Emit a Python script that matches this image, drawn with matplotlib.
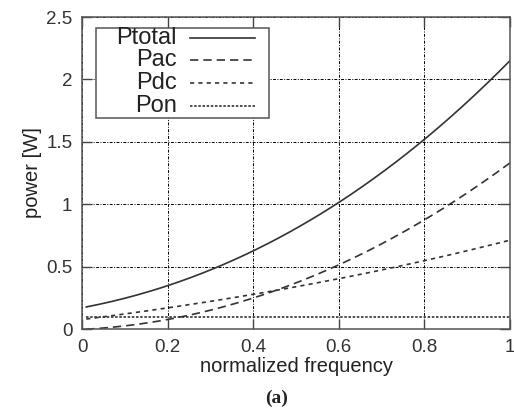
import numpy as np
import matplotlib.pyplot as plt
from matplotlib.lines import Line2D

plt.rcParams['font.family'] = ['Liberation Sans', 'DejaVu Sans']

# values
freq = [0.01, 0.1, 0.2, 0.3, 0.4, 0.5, 0.6, 0.7, 0.8, 0.9, 1.0]
p_total = [0.18, 0.24, 0.35, 0.47, 0.63, 0.81, 1.01, 1.25, 1.52, 1.82, 2.15]
p_ac = [0.0, 0.02, 0.08, 0.15, 0.25, 0.37, 0.51, 0.68, 0.88, 1.09, 1.33]
p_dc = [0.08, 0.12, 0.17, 0.22, 0.28, 0.34, 0.40, 0.47, 0.55, 0.63, 0.71]
p_on = [0.1] * len(freq)

names = ['Ptotal', 'Pac', 'Pdc', 'Pon']
styles = ['-', (0, (5, 3)), (0, (2.5, 2.5)), (0, (1.5, 1))]
series = [p_total, p_ac, p_dc, p_on]

fig = plt.figure(figsize=(5.14, 4.18), dpi=100)
ax = fig.add_axes([82 / 514, 1 - 329 / 418, 428 / 514, 312 / 418])

# smooth curves through the read points
xs = np.linspace(freq[0], freq[-1], 200)
for vals, ls in zip(series, styles):
    c = np.polyfit(freq, vals, 3)
    ax.plot(xs, np.polyval(c, xs), color='#333333', lw=1.2, linestyle=ls)

ax.set_xlim(0, 1)
ax.set_ylim(0, 2.5)
ax.set_xticks([0, 0.2, 0.4, 0.6, 0.8, 1])
ax.set_xticklabels(['0', '0.2', '0.4', '0.6', '0.8', '1'])
ax.set_yticks([0, 0.5, 1, 1.5, 2, 2.5])
ax.set_yticklabels(['0', '0.5', '1', '1.5', '2', '2.5'])
ax.grid(True, color='black', lw=0.7, linestyle=(0, (3, 1.5, 1, 1.5)))
ax.tick_params(direction='in', top=True, right=True, length=7, width=1,
               color='#444444', labelsize=13.5, labelcolor='#333333', pad=7)
for s in ax.spines.values():
    s.set_color('#555555')
    s.set_linewidth(1.1)
ax.set_xlabel('normalized frequency', fontsize=14.5, color='#222222', labelpad=1)
ax.set_ylabel('power [W]', fontsize=14.5, color='#222222', labelpad=3)

# gnuplot-style key: right aligned labels, samples to the right
ax.add_patch(plt.Rectangle((0.033, 0.675), 0.405, 0.29, transform=ax.transAxes,
                           facecolor='white', edgecolor='#555555', lw=1.1, zorder=5))
for i, (nm, ls) in enumerate(zip(names, styles)):
    y = 0.934 - i * 0.073
    ax.text(0.222, y, nm, transform=ax.transAxes, ha='right', va='center',
            fontsize=17, color='#222222', zorder=6)
    ax.add_line(Line2D([0.252, 0.404], [y, y], transform=ax.transAxes,
                       color='#333333', lw=1.2, linestyle=ls, zorder=6))

fig.text(277 / 514, 1 - 398 / 418, '(a)', ha='center', va='center',
         fontsize=14, fontweight='bold', family='Liberation Serif', color='#222222')

fig.savefig('out.png', dpi=100)
